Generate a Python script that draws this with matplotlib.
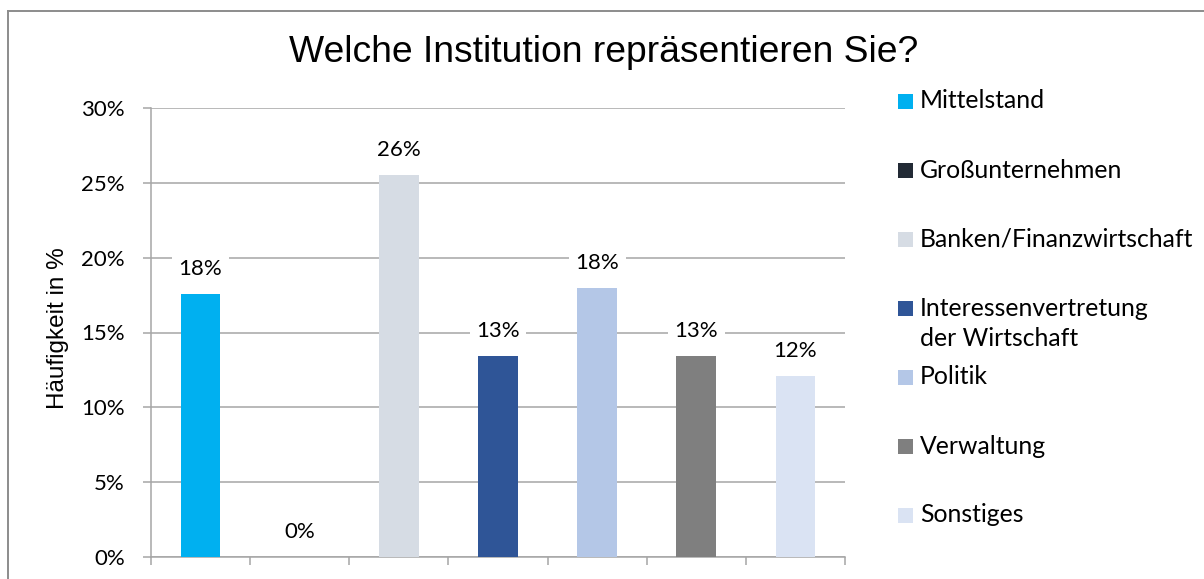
import matplotlib
matplotlib.use("Agg")
import matplotlib.pyplot as plt
from matplotlib.patches import Rectangle
from matplotlib.lines import Line2D
from matplotlib.ticker import FuncFormatter, MultipleLocator

categories = ["Mittelstand", "Großunternehmen", "Banken/Finanzwirtschaft",
              "Interessenvertretung\nder Wirtschaft", "Politik", "Verwaltung", "Sonstiges"]
values = [17.6, 0.0, 25.5, 13.4, 18.0, 13.4, 12.1]
colors = ["#00B0F0", "#222A35", "#D6DCE4", "#2F5597", "#B4C7E7", "#7F7F7F", "#DAE3F3"]
yticks = [0, 5, 10, 15, 20, 25, 30]
title = "Welche Institution repräsentieren Sie?"
ylabel = "Häufigkeit in %"

W, H = 1204, 579
fig = plt.figure(figsize=(W / 100, H / 100), dpi=100)
BODY = ["Lato", "DejaVu Sans"]
ARIAL = ["Liberation Sans", "DejaVu Sans"]
grid_c = "#A6A6A6"
fs = 16

ax = fig.add_axes([151 / W, 1 - 557.3 / H, (845 - 151) / W, (557.3 - 107.7) / H])
x = [i + 0.5 for i in range(len(categories))]
ax.bar(x, values, width=0.4, color=colors, zorder=3)
ax.set_xlim(0, len(categories))
ax.set_ylim(0, 30)
ax.set_yticks(yticks)
ax.yaxis.set_major_formatter(FuncFormatter(lambda v, p: f"{v:.0f}%"))
ax.set_xticks([])
ax.xaxis.set_minor_locator(MultipleLocator(1))
ax.tick_params(axis="x", which="minor", length=5.8, width=1.1, color=grid_c, direction="out")
ax.tick_params(axis="y", which="major", length=5.8, width=1.1, color=grid_c, pad=13,
               labelsize=fs, labelcolor="black")
for lab in ax.get_yticklabels():
    lab.set_family(BODY)
ax.grid(axis="y", color=grid_c, linewidth=1.1, zorder=0)
ax.set_axisbelow(True)
for s in ["top", "right"]:
    ax.spines[s].set_visible(False)
for s in ["left", "bottom"]:
    ax.spines[s].set_color(grid_c)
    ax.spines[s].set_linewidth(1.1)

for xi, v in zip(x, values):
    ax.annotate(f"{v:.0f}%", (xi, v), xytext=(0, 18), textcoords="offset points",
                ha="center", va="center", fontsize=fs, family=BODY, zorder=4,
                bbox=dict(boxstyle="square,pad=0.3", fc="white", ec="none"))

fig.text(604 / W, 1 - 52 / H, title, ha="center", va="center", fontsize=26.8, family=ARIAL)
fig.text(58 / W, 1 - 328 / H, ylabel, ha="center", va="center", rotation=90,
         fontsize=17.5, family=ARIAL)

# legend
leg_y0 = 101
leg_step = 69
line_step = 30
for i, (c, lab) in enumerate(zip(colors, categories)):
    yc = leg_y0 + i * leg_step
    fig.add_artist(Rectangle((898 / W, 1 - (yc + 7.5) / H), 15 / W, 15 / H,
                             transform=fig.transFigure, facecolor=c, edgecolor="none"))
    for k, line in enumerate(lab.split("\n")):
        fig.text(920 / W, 1 - (yc + k * line_step) / H, line, ha="left", va="center",
                 fontsize=17.8, family=BODY)

# outer border (top and left)
fig.add_artist(Line2D([8 / W, 1], [1 - 11 / H, 1 - 11 / H], color="#8C8C8C", lw=1.4,
                      transform=fig.transFigure))
fig.add_artist(Line2D([8 / W, 8 / W], [1 - 11 / H, 0], color="#8C8C8C", lw=1.4,
                      transform=fig.transFigure))

fig.savefig("out.png", dpi=100)
